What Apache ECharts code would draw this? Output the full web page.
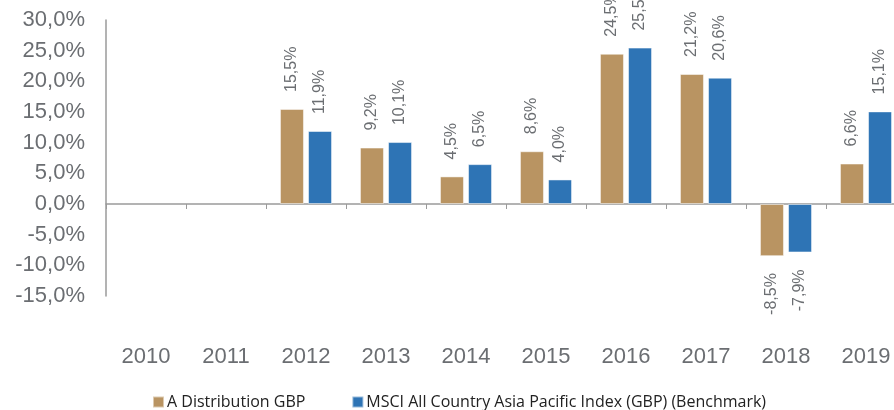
<!DOCTYPE html>
<html>
<head>
<meta charset="utf-8">
<script src="https://cdn.jsdelivr.net/npm/echarts@6/dist/echarts.min.js"></script>
<style>html,body{margin:0;padding:0;background:#fff;}#c{width:894px;height:410px;}</style>
</head>
<body>
<div id="c"></div>
<script>
var categories = ['2010','2011','2012','2013','2014','2015','2016','2017','2018','2019'];
var fundValues = [null, null, 15.5, 9.2, 4.5, 8.6, 24.5, 21.2, -8.5, 6.6];
var benchValues = [null, null, 11.9, 10.1, 6.5, 4.0, 25.5, 20.6, -7.9, 15.1];
var seriesNames = ['A Distribution GBP', 'MSCI All Country Asia Pacific Index (GBP) (Benchmark)'];
var yTicks = {min: -15, max: 30, interval: 5};

function fmt(v){ return v.toFixed(1).replace('.', ',') + '%'; }
function mkData(arr){
  return arr.map(function(v){
    if (v === null) return null;
    var neg = v < 0;
    return {value: v, label: {position: neg ? 'bottom' : 'top', align: neg ? 'right' : 'left'}};
  });
}
var labelStyle = {
  show: true, rotate: 90, distance: 17, verticalAlign: 'middle',
  color: '#6b6e72', fontSize: 16, fontFamily: 'Liberation Sans, Arial, sans-serif',
  formatter: function(p){ return fmt(p.value); }
};
var chart = echarts.init(document.getElementById('c'), null, {renderer: 'canvas'});
chart.setOption({
  animation: false,
  grid: {left: 106, top: 20, width: 800, height: 276, containLabel: false, outerBoundsMode: 'none'},
  legend: {
    left: 147, top: 389, itemWidth: 11, itemHeight: 11, itemGap: 46,
    icon: 'rect',
    textStyle: {fontSize: 16, color: '#222', fontFamily: 'Open Sans, sans-serif', padding: [0,0,0,-2]},
    data: seriesNames
  },
  xAxis: [{
    type: 'category', data: categories,
    axisLine: {onZero: true, lineStyle: {color: '#9a9a9a', width: 1.5}},
    axisTick: {show: true, length: 5, lineStyle: {color: '#9a9a9a'}},
    axisLabel: {show: false}
  }, {
    type: 'category', data: categories, position: 'bottom', offset: 42,
    axisLine: {show: false}, axisTick: {show: false},
    axisLabel: {fontSize: 22, color: '#6b6e72', fontFamily: 'Liberation Sans, Arial, sans-serif', margin: 8}
  }],
  yAxis: {
    type: 'value', min: yTicks.min, max: yTicks.max, interval: yTicks.interval,
    axisLine: {show: true, lineStyle: {color: '#9a9a9a', width: 1.5}},
    axisTick: {show: false},
    splitLine: {show: false},
    axisLabel: {fontSize: 22, color: '#6b6e72', fontFamily: 'Liberation Sans, Arial, sans-serif', margin: 21,
      formatter: function(v){ return fmt(v); }}
  },
  series: [{
    name: seriesNames[0], type: 'bar', xAxisIndex: 0, data: mkData(fundValues),
    barWidth: 24, barGap: '17%',
    itemStyle: {color: '#b99462', borderColor: 'rgba(255,255,255,0.5)', borderWidth: 1},
    label: labelStyle
  }, {
    name: seriesNames[1], type: 'bar', xAxisIndex: 0, data: mkData(benchValues),
    barWidth: 24, barGap: '17%',
    itemStyle: {color: '#2e74b5', borderColor: 'rgba(255,255,255,0.5)', borderWidth: 1},
    label: labelStyle
  }]
});
</script>
</body>
</html>
